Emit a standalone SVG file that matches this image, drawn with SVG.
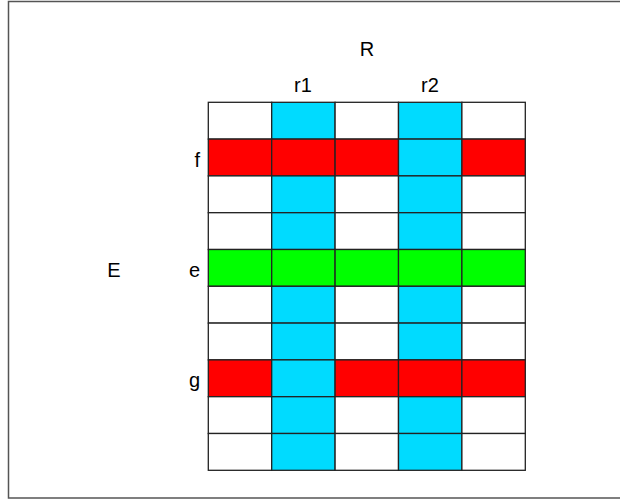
<svg xmlns="http://www.w3.org/2000/svg" width="620" height="500" viewBox="0 0 620 500">
<style>
text{font-family:"Liberation Sans",Arial,sans-serif;font-size:20px;fill:#000}
.c{stroke:#222;stroke-width:1.3}
.w{fill:#fff}.b{fill:#00dbff}.r{fill:#ff0000}.g{fill:#00ff00}
</style>
<rect x="8.5" y="1.5" width="620" height="496.5" fill="#fff" stroke="#555" stroke-width="1.5"/>
<g id="labels">
<text x="367" y="56" text-anchor="middle">R</text>
<text x="303" y="92" text-anchor="middle">r1</text>
<text x="430" y="92" text-anchor="middle">r2</text>
<text x="114" y="277" text-anchor="middle">E</text>
<text x="200" y="167" text-anchor="end">f</text>
<text x="200" y="277" text-anchor="end">e</text>
<text x="200" y="387" text-anchor="end">g</text>
</g>
<g id="grid">
<g id="row0"><rect class="c w" x="208.3" y="102.3" width="63.4" height="36.8"/><rect class="c b" x="271.7" y="102.3" width="63.4" height="36.8"/><rect class="c w" x="335.1" y="102.3" width="63.4" height="36.8"/><rect class="c b" x="398.5" y="102.3" width="63.4" height="36.8"/><rect class="c w" x="461.9" y="102.3" width="63.4" height="36.8"/></g>
<g id="row1"><rect class="c r" x="208.3" y="139.1" width="63.4" height="36.8"/><rect class="c r" x="271.7" y="139.1" width="63.4" height="36.8"/><rect class="c r" x="335.1" y="139.1" width="63.4" height="36.8"/><rect class="c b" x="398.5" y="139.1" width="63.4" height="36.8"/><rect class="c r" x="461.9" y="139.1" width="63.4" height="36.8"/></g>
<g id="row2"><rect class="c w" x="208.3" y="175.9" width="63.4" height="36.8"/><rect class="c b" x="271.7" y="175.9" width="63.4" height="36.8"/><rect class="c w" x="335.1" y="175.9" width="63.4" height="36.8"/><rect class="c b" x="398.5" y="175.9" width="63.4" height="36.8"/><rect class="c w" x="461.9" y="175.9" width="63.4" height="36.8"/></g>
<g id="row3"><rect class="c w" x="208.3" y="212.7" width="63.4" height="36.8"/><rect class="c b" x="271.7" y="212.7" width="63.4" height="36.8"/><rect class="c w" x="335.1" y="212.7" width="63.4" height="36.8"/><rect class="c b" x="398.5" y="212.7" width="63.4" height="36.8"/><rect class="c w" x="461.9" y="212.7" width="63.4" height="36.8"/></g>
<g id="row4"><rect class="c g" x="208.3" y="249.5" width="63.4" height="36.8"/><rect class="c g" x="271.7" y="249.5" width="63.4" height="36.8"/><rect class="c g" x="335.1" y="249.5" width="63.4" height="36.8"/><rect class="c g" x="398.5" y="249.5" width="63.4" height="36.8"/><rect class="c g" x="461.9" y="249.5" width="63.4" height="36.8"/></g>
<g id="row5"><rect class="c w" x="208.3" y="286.3" width="63.4" height="36.8"/><rect class="c b" x="271.7" y="286.3" width="63.4" height="36.8"/><rect class="c w" x="335.1" y="286.3" width="63.4" height="36.8"/><rect class="c b" x="398.5" y="286.3" width="63.4" height="36.8"/><rect class="c w" x="461.9" y="286.3" width="63.4" height="36.8"/></g>
<g id="row6"><rect class="c w" x="208.3" y="323.1" width="63.4" height="36.8"/><rect class="c b" x="271.7" y="323.1" width="63.4" height="36.8"/><rect class="c w" x="335.1" y="323.1" width="63.4" height="36.8"/><rect class="c b" x="398.5" y="323.1" width="63.4" height="36.8"/><rect class="c w" x="461.9" y="323.1" width="63.4" height="36.8"/></g>
<g id="row7"><rect class="c r" x="208.3" y="359.9" width="63.4" height="36.8"/><rect class="c b" x="271.7" y="359.9" width="63.4" height="36.8"/><rect class="c r" x="335.1" y="359.9" width="63.4" height="36.8"/><rect class="c r" x="398.5" y="359.9" width="63.4" height="36.8"/><rect class="c r" x="461.9" y="359.9" width="63.4" height="36.8"/></g>
<g id="row8"><rect class="c w" x="208.3" y="396.7" width="63.4" height="36.8"/><rect class="c b" x="271.7" y="396.7" width="63.4" height="36.8"/><rect class="c w" x="335.1" y="396.7" width="63.4" height="36.8"/><rect class="c b" x="398.5" y="396.7" width="63.4" height="36.8"/><rect class="c w" x="461.9" y="396.7" width="63.4" height="36.8"/></g>
<g id="row9"><rect class="c w" x="208.3" y="433.5" width="63.4" height="36.8"/><rect class="c b" x="271.7" y="433.5" width="63.4" height="36.8"/><rect class="c w" x="335.1" y="433.5" width="63.4" height="36.8"/><rect class="c b" x="398.5" y="433.5" width="63.4" height="36.8"/><rect class="c w" x="461.9" y="433.5" width="63.4" height="36.8"/></g>
</g>
<g id="connectors"/>
</svg>
